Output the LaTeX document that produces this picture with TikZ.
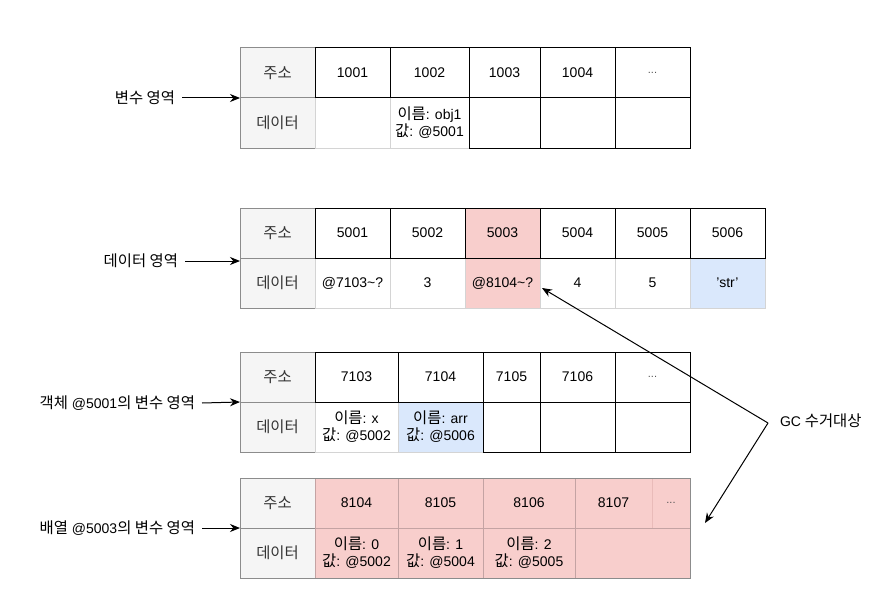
\documentclass[tikz,border=0pt]{standalone}
\usepackage{fontspec}
\setmainfont{Liberation Sans}
\newfontfamily\kr[Scale=1.1]{Noto Sans CJK KR}
\usetikzlibrary{arrows.meta}
\definecolor{hdrfill}{HTML}{F5F5F5}
\definecolor{hdrdraw}{HTML}{8C8C8C}
\definecolor{hdrtext}{HTML}{333333}
\definecolor{lgray}{HTML}{D4D4D4}
\definecolor{pinkf}{HTML}{F8CECC}
\definecolor{pinkd}{HTML}{C4A3A3}
\definecolor{pinkl}{HTML}{E9BBB9}
\definecolor{bluef}{HTML}{DAE8FC}
\definecolor{dots}{HTML}{555555}
\newcommand\mycell[5]{\node[#1,minimum width=#4pt,minimum height=50pt] (#2) at #3 {#5};}
\begin{document}
\begin{tikzpicture}[x=1pt,y=-1pt,
  cell/.style={rectangle, inner sep=0pt, outer sep=0pt, line width=1pt, anchor=north west, align=center, font=\fontsize{14}{17}\selectfont},
  hdr/.style={cell, fill=hdrfill, draw=hdrdraw, text=hdrtext},
  adr/.style={cell, fill=white, draw=black},
  adrpink/.style={cell, fill=pinkf, draw=black},
  dat/.style={cell, fill=white, draw=lgray},
  datpink/.style={cell, fill=pinkf, draw=lgray},
  datblue/.style={cell, fill=bluef, draw=lgray},
  pk/.style={cell, fill=pinkf, draw=pinkd},
  lbl/.style={inner sep=0pt, outer sep=0pt, font=\fontsize{14}{17}\selectfont},
  arr/.style={line width=1pt, -{Stealth[length=10pt,width=8pt]}}
]
\useasboundingbox (0,0) rectangle (888,607);

% ---------- Table 1 ----------
\mycell{hdr}{t1h1}{(240,48)}{75}{\kr 주소}
\mycell{hdr}{t1h2}{(240,98)}{75}{\kr 데이터}
\mycell{dat}{t1d1}{(315,98)}{75}{}
\mycell{dat}{t1d2}{(390,98)}{79}{{\kr 이름}: obj1\\{\kr 값}: @5001}
\mycell{adr}{t1a1}{(315,48)}{75}{1001}
\mycell{adr}{t1a2}{(390,48)}{79}{1002}
\mycell{adr}{t1a3}{(469,48)}{71}{1003}
\mycell{adr}{t1a4}{(540,48)}{75}{1004}
\mycell{adr}{t1a5}{(615,48)}{75}{\textcolor{dots}{\fontsize{11}{13}\selectfont ...}}
\mycell{adr}{t1d3}{(469,98)}{71}{}
\mycell{adr}{t1d4}{(540,98)}{75}{}
\mycell{adr}{t1d5}{(615,98)}{75}{}

% ---------- Table 2 ----------
\mycell{hdr}{t2h1}{(240,208)}{75}{\kr 주소}
\mycell{hdr}{t2h2}{(240,258)}{75}{\kr 데이터}
\mycell{dat}{t2d1}{(315,258)}{75}{@7103\textasciitilde?}
\mycell{dat}{t2d2}{(390,258)}{75}{3}
\mycell{datpink}{t2d3}{(465,258)}{75}{@8104\textasciitilde?}
\mycell{dat}{t2d4}{(540,258)}{75}{4}
\mycell{dat}{t2d5}{(615,258)}{75}{5}
\mycell{datblue}{t2d6}{(690,258)}{75}{'str'}
\mycell{adr}{t2a1}{(315,208)}{75}{5001}
\mycell{adr}{t2a2}{(390,208)}{75}{5002}
\mycell{adrpink}{t2a3}{(465,208)}{75}{5003}
\mycell{adr}{t2a4}{(540,208)}{75}{5004}
\mycell{adr}{t2a5}{(615,208)}{75}{5005}
\mycell{adr}{t2a6}{(690,208)}{75}{5006}

% ---------- Table 3 ----------
\mycell{hdr}{t3h1}{(240,352)}{75}{\kr 주소}
\mycell{hdr}{t3h2}{(240,402)}{75}{\kr 데이터}
\mycell{dat}{t3d1}{(315,402)}{83}{{\kr 이름}: x\\{\kr 값}: @5002}
\mycell{datblue}{t3d2}{(398,402)}{85}{{\kr 이름}: arr\\{\kr 값}: @5006}
\mycell{adr}{t3a1}{(315,352)}{83}{7103}
\mycell{adr}{t3a2}{(398,352)}{85}{7104}
\mycell{adr}{t3a3}{(483,352)}{57}{7105}
\mycell{adr}{t3a4}{(540,352)}{75}{7106}
\mycell{adr}{t3a5}{(615,352)}{75}{\textcolor{dots}{\fontsize{11}{13}\selectfont ...}}
\mycell{adr}{t3d3}{(483,402)}{57}{}
\mycell{adr}{t3d4}{(540,402)}{75}{}
\mycell{adr}{t3d5}{(615,402)}{75}{}

% ---------- Table 4 ----------
\mycell{hdr}{t4h1}{(240,478)}{75}{\kr 주소}
\mycell{hdr}{t4h2}{(240,528)}{75}{\kr 데이터}
\mycell{pk}{t4a1}{(315,478)}{83}{8104}
\mycell{pk}{t4a2}{(398,478)}{85}{8105}
\mycell{pk}{t4a3}{(483,478)}{92}{8106}
\mycell{pk}{t4a4}{(575,478)}{77}{8107}
\mycell{pk}{t4a5}{(652,478)}{38}{\textcolor{dots}{\fontsize{11}{13}\selectfont ...}}
\mycell{pk}{t4d1}{(315,528)}{83}{{\kr 이름}: 0\\{\kr 값}: @5002}
\mycell{pk}{t4d2}{(398,528)}{85}{{\kr 이름}: 1\\{\kr 값}: @5004}
\mycell{pk}{t4d3}{(483,528)}{92}{{\kr 이름}: 2\\{\kr 값}: @5005}
\mycell{pk}{t4d4}{(575,528)}{115}{}
\draw[pinkl, line width=1pt] ([yshift=-0.5pt]t4a5.north west) -- ([yshift=0.5pt]t4a5.south west);
\draw[hdrdraw, line width=1pt] (t4a1.north west) -- (t4a5.north east) -- (t4d4.south east) -- (t4d1.south west);

% ---------- Left labels ----------
\node[lbl, anchor=east] (l1) at (175,98) {\kr 변수 영역};
\node[lbl, anchor=east] (l2) at (178,261) {\kr 데이터 영역};
\node[lbl, anchor=east] (l3) at (195,403) {{\kr 객체} @5001{\kr 의 변수 영역}};
\node[lbl, anchor=east] (l4) at (195,528) {{\kr 배열} @5003{\kr 의 변수 영역}};
\draw[arr] ([xshift=7pt]l1.east) -- (t1h2.north west);
\draw[arr] ([xshift=7pt]l2.east) -- ([yshift=-3pt]t2h2.north west);
\draw[arr] ([xshift=7pt]l3.east) -- (t3h2.north west);
\draw[arr] ([xshift=7pt]l4.east) -- (t4h2.north west);

% ---------- GC ----------
\node[lbl, anchor=west] (gc) at (780,421) {GC {\kr 수거대상}};
\coordinate (g0) at (768,423);
\coordinate (gA) at (542,288);
\coordinate (gB) at (705,523);
\draw[arr] (g0) -- (gA);
\draw[arr] (g0) -- (gB);
\end{tikzpicture}
\end{document}
